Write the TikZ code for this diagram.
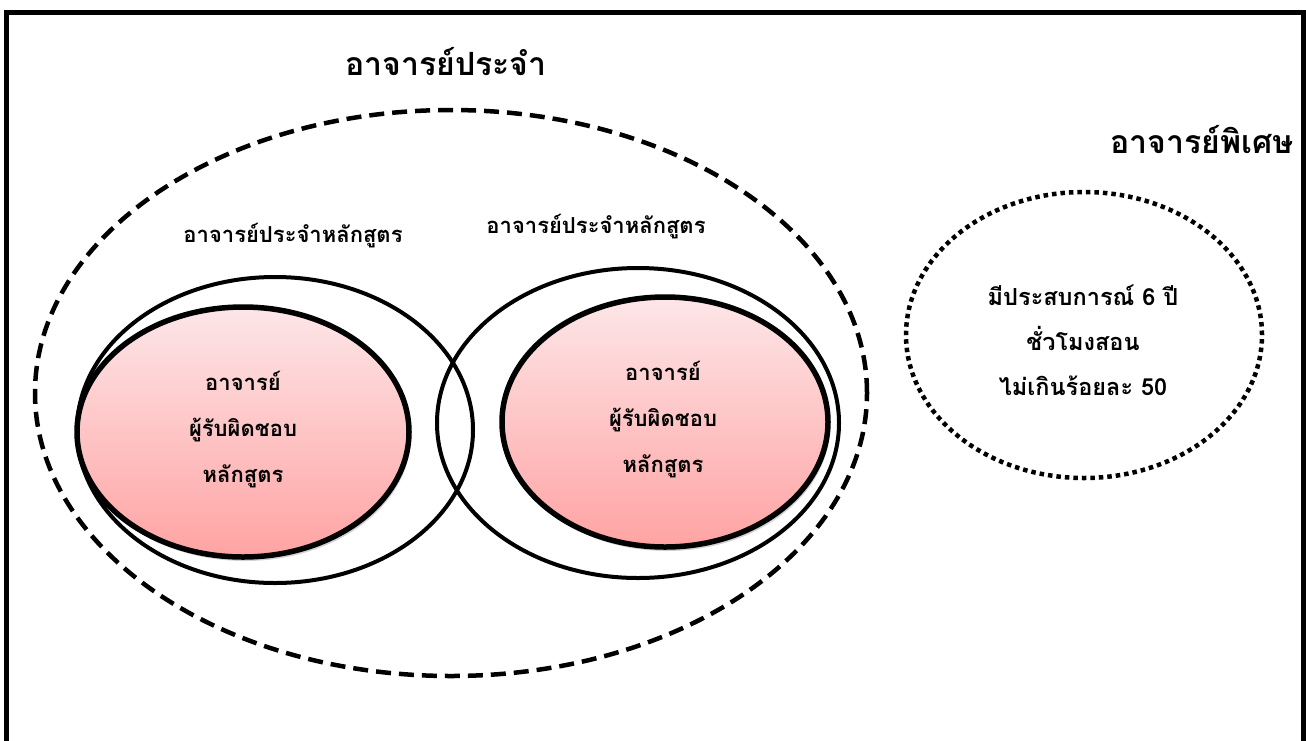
\documentclass[tikz,border=0pt]{standalone}
\usepackage{fontspec}
\newfontfamily\thaifont[Script=Thai]{Loma}
\usetikzlibrary{shapes.geometric,shadows}
\tikzset{
  px/.style={x=1pt,y=-1pt},
  frame/.style={draw=black,line width=5pt},
  dashring/.style={ellipse,draw=black,line width=4.5pt,dash pattern=on 15pt off 8pt,inner sep=0pt},
  dotring/.style={ellipse,draw=black,line width=4.5pt,dash pattern=on 4.5pt off 4pt,inner sep=0pt},
  ring/.style={ellipse,draw=black,line width=4pt,inner sep=0pt},
  pinkring/.style={ellipse,draw=black,line width=5.5pt,inner sep=0pt,
     top color=pinkTop,bottom color=pinkBot,
     drop shadow={opacity=0.35,shadow xshift=2pt,shadow yshift=-4pt}},
  bigtitle/.style={font=\thaifont\bfseries\fontsize{32}{38}\selectfont},
  sublabel/.style={font=\thaifont\bfseries\fontsize{22}{26}\selectfont},
  bodytext/.style={font=\thaifont\bfseries\fontsize{22}{46}\selectfont,align=center},
}
\definecolor{pinkTop}{HTML}{FDE6E8}
\definecolor{pinkBot}{HTML}{FFA3A3}
\begin{document}
\begin{tikzpicture}[px]
\useasboundingbox (0,0) rectangle (1306,740);
\begin{scope}
\clip (0,0) rectangle (1306,740);
\fill[white] (0,0) rectangle (1306,740);
\draw[frame] (6.5,12.5) -- (1303.5,12.5) -- (1303.5,760) -- (6.5,760) -- cycle;
\end{scope}
\node[bigtitle] (t1) at (446,62) {อาจารย์ประจำ};
\node[bigtitle] (t2) at (1202,140) {อาจารย์พิเศษ};
\node[dashring,minimum width=832pt,minimum height=566pt] (big) at (451,393) {};
\node[ring,minimum width=396pt,minimum height=306pt] (lo) at (275,430) {};
\node[ring,minimum width=402pt,minimum height=310pt] (ro) at (638,423) {};
\node[pinkring,minimum width=332pt,minimum height=250pt] (lp) at (243,432) {};
\node[pinkring,minimum width=326pt,minimum height=250pt] (rp) at (665,422) {};
\node[sublabel] (s1) at (293,236) {อาจารย์ประจำหลักสูตร};
\node[sublabel] (s2) at (596,227) {อาจารย์ประจำหลักสูตร};
\node[bodytext] (lt) at (243,430) {อาจารย์\\ผู้รับผิดชอบ\\หลักสูตร};
\node[bodytext] (rt) at (663,420) {อาจารย์\\ผู้รับผิดชอบ\\หลักสูตร};
\node[dotring,minimum width=356pt,minimum height=286pt] (sp) at (1084,335) {};
\node[bodytext,font=\thaifont\bfseries\fontsize{23.5}{45}\selectfont] (st) at (1083,340) {มีประสบการณ์ 6 ปี\\ชั่วโมงสอน\\ไม่เกินร้อยละ 50};
\end{tikzpicture}
\end{document}
